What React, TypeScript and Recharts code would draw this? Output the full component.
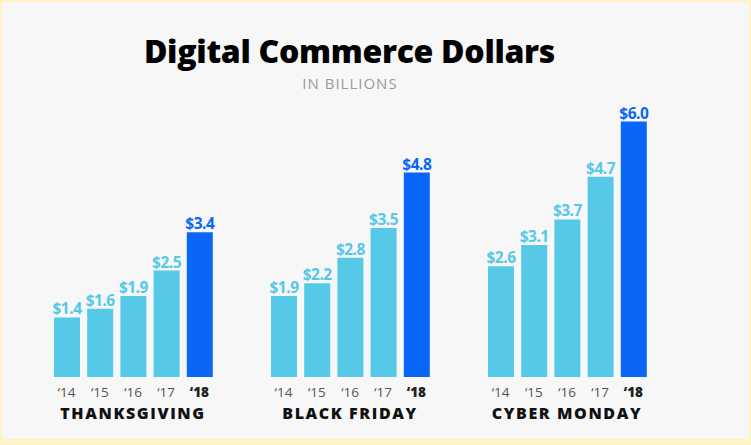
import React from 'react';
import { BarChart, Bar, XAxis, YAxis, Cell } from 'recharts';

const years = ['\u201814', '\u201815', '\u201816', '\u201817', '\u201818'];
const thanksgiving = [1.4, 1.6, 1.9, 2.5, 3.4];
const blackFriday = [1.9, 2.2, 2.8, 3.5, 4.8];
const cyberMonday = [2.6, 3.1, 3.7, 4.7, 6.0];
const groupTitles = ['THANKSGIVING', 'BLACK FRIDAY', 'CYBER MONDAY'];
const groupSeries = [thanksgiving, blackFriday, cyberMonday];

const LIGHT = '#56c8e8';
const DARK = '#0a66f7';
const FONT = '"Open Sans", "DejaVu Sans", sans-serif';

const CHART_W = 186;
const CHART_H = 445;
const GROUP_STEP = 216.85;
const FIRST_LEFT = 40.4;

function Tick(props: any) {
  const { x, y, payload, index } = props;
  const last = index === years.length - 1;
  return (
    <text
      x={x}
      y={y}
      dy="0.71em"
      textAnchor="middle"
      fontFamily={FONT}
      fontSize={13.5}
      fontWeight={last ? 800 : 400}
      fill={last ? '#222' : '#555'}
    >
      {payload.value}
    </text>
  );
}

function Group({ title, values }: { title: string; values: number[] }) {
  const data = years.map((y, i) => ({ year: y, value: values[i] }));
  const lastIdx = values.length - 1;
  return (
    <BarChart
      width={CHART_W}
      height={CHART_H}
      data={data}
      margin={{ top: 121.5, right: 10, bottom: 0, left: 10 }}
      barSize={26}
    >
      <YAxis hide domain={[0, 6]} />
      <XAxis
        dataKey="year"
        height={68}
        axisLine={false}
        tickLine={false}
        tickMargin={4}
        interval={0}
        tick={<Tick />}
        label={{
          content: (p: any) => {
            const vb = p.viewBox || {};
            return (
              <text
                x={vb.x + vb.width / 2}
                y={vb.y + 42}
                textAnchor="middle"
                fontFamily={FONT}
                fontSize={16}
                fontWeight={800}
                letterSpacing={1.6}
                fill="#111"
              >
                {title}
              </text>
            );
          },
        }}
      />
      <Bar
        dataKey="value"
        isAnimationActive={false}
        label={(p: any) => {
          const hi = p.index === lastIdx || (p.index === undefined && p.value === Math.max(...values));
          return (
            <text
              x={p.x + p.width / 2}
              y={p.y - 3}
              textAnchor="middle"
              fontFamily={FONT}
              fontSize={15.5}
              fontWeight={700}
              letterSpacing={-0.5}
              fill={hi ? DARK : LIGHT}
            >
              {'$' + Number(p.value).toFixed(1)}
            </text>
          );
        }}
      >
        {data.map((_, i) => (
          <Cell key={i} fill={i === lastIdx ? DARK : LIGHT} />
        ))}
      </Bar>
    </BarChart>
  );
}

export default function App() {
  return (
    <div
      style={{
        position: 'fixed',
        left: 0,
        top: 0,
        width: 751,
        height: 445,
        background: '#fff2c4',
        overflow: 'hidden',
      }}
    >
      <div
        style={{
          position: 'absolute',
          left: 2,
          top: 2,
          width: 747,
          height: 437,
          background: '#f7f7f7',
        }}
      />
      <div
        style={{
          position: 'absolute',
          left: 0,
          top: 34.6,
          width: 699,
          textAlign: 'center',
          fontFamily: FONT,
          fontWeight: 800,
          fontSize: 32,
          letterSpacing: -0.3,
          color: '#000',
          lineHeight: '32px',
          whiteSpace: 'nowrap',
        }}
      >
        Digital Commerce Dollars
      </div>
      <div
        style={{
          position: 'absolute',
          left: 0,
          top: 76,
          width: 700,
          textAlign: 'center',
          fontFamily: FONT,
          fontWeight: 400,
          fontSize: 15,
          letterSpacing: 1,
          color: '#9a9a9a',
          lineHeight: '15px',
          whiteSpace: 'nowrap',
        }}
      >
        IN BILLIONS
      </div>
      {groupSeries.map((vals, i) => (
        <div
          key={i}
          style={{ position: 'absolute', left: FIRST_LEFT + i * GROUP_STEP, top: 0 }}
        >
          <Group title={groupTitles[i]} values={vals} />
        </div>
      ))}
    </div>
  );
}
